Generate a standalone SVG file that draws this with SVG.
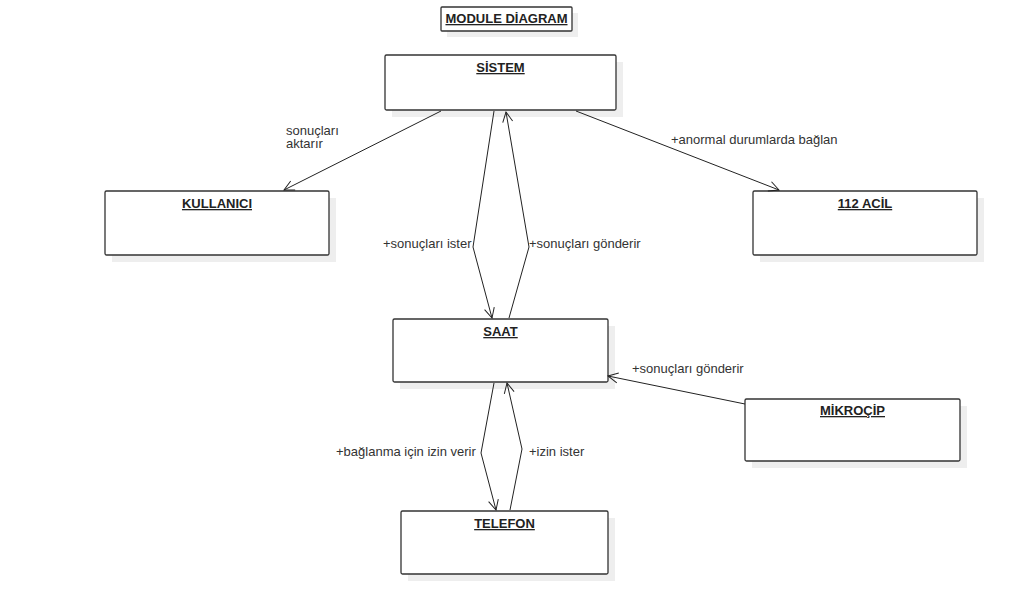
<svg xmlns="http://www.w3.org/2000/svg" width="1010" height="606" viewBox="0 0 1010 606">
<style>
.sh{fill:#eeeeee;stroke:none}
.bx{fill:#ffffff;stroke:#333333;stroke-width:1.3}
.ttl{font-family:"Liberation Sans",Arial,sans-serif;font-size:13px;font-weight:bold;fill:#222222;text-anchor:middle;text-decoration:underline}
.lbl{font-family:"Liberation Sans",Arial,sans-serif;font-size:13px;fill:#333333}
.cn{fill:none;stroke:#222222;stroke-width:1}
</style>
<defs>
<marker id="arr" viewBox="0 0 12 12" refX="11" refY="6" markerWidth="12" markerHeight="12" markerUnits="userSpaceOnUse" orient="auto">
<path d="M1,1 L11,6 L1,11" fill="none" stroke="#222222" stroke-width="1"/>
</marker>
</defs>
<rect width="1010" height="606" fill="#ffffff"/>
<g id="title">
<rect class="sh" x="447" y="13" width="131" height="24"/>
<rect class="bx" x="441" y="7" width="131" height="24" rx="1"/>
<text class="ttl" x="506.5" y="23">MODULE DİAGRAM</text>
</g>
<g id="sistem">
<rect class="sh" x="392" y="62" width="231" height="55"/>
<rect class="bx" x="385" y="55" width="231" height="55" rx="1.5"/>
<text class="ttl" x="500.5" y="72">SİSTEM</text>
</g>
<g id="kullanici">
<rect class="sh" x="112" y="198" width="224" height="64"/>
<rect class="bx" x="105" y="191" width="224" height="64" rx="1.5"/>
<text class="ttl" x="217" y="208">KULLANICI</text>
</g>
<g id="acil">
<rect class="sh" x="760" y="198" width="224" height="64"/>
<rect class="bx" x="753" y="191" width="224" height="64" rx="1.5"/>
<text class="ttl" x="865" y="208">112 ACİL</text>
</g>
<g id="saat">
<rect class="sh" x="400" y="326" width="215" height="63"/>
<rect class="bx" x="393" y="319" width="215" height="63" rx="1.5"/>
<text class="ttl" x="500.5" y="336">SAAT</text>
</g>
<g id="mikrocip">
<rect class="sh" x="752" y="406" width="215" height="62"/>
<rect class="bx" x="745" y="399" width="215" height="62" rx="1.5"/>
<text class="ttl" x="852.5" y="415">MİKROÇİP</text>
</g>
<g id="telefon">
<rect class="sh" x="408" y="518" width="207" height="63"/>
<rect class="bx" x="401" y="511" width="207" height="63" rx="1.5"/>
<text class="ttl" x="504.5" y="528">TELEFON</text>
</g>
<g id="connectors">
<path class="cn" d="M441,111 L284,190" marker-end="url(#arr)"/>
<path class="cn" d="M576,111 L779,190" marker-end="url(#arr)"/>
<path class="cn" d="M494,111 L473,247 L492,318" marker-end="url(#arr)"/>
<path class="cn" d="M509,318 L529,247 L506,112" marker-end="url(#arr)"/>
<path class="cn" d="M745,404 L608,376" marker-end="url(#arr)"/>
<path class="cn" d="M494,383 L481,453 L496,510" marker-end="url(#arr)"/>
<path class="cn" d="M510,510 L522,449 L507,383" marker-end="url(#arr)"/>
</g>
<g id="labels">
<text class="lbl" x="286" y="135">sonuçları</text>
<text class="lbl" x="286" y="148">aktarır</text>
<text class="lbl" x="671" y="144">+anormal durumlarda bağlan</text>
<text class="lbl" x="383" y="248">+sonuçları ister</text>
<text class="lbl" x="529" y="248">+sonuçları gönderir</text>
<text class="lbl" x="632" y="373">+sonuçları gönderir</text>
<text class="lbl" x="336" y="456">+bağlanma için izin verir</text>
<text class="lbl" x="529" y="456">+izin ister</text>
</g>
</svg>
